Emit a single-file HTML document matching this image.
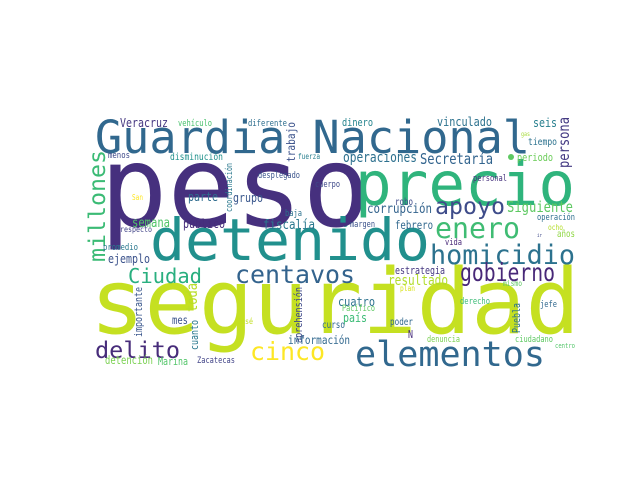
<!DOCTYPE html>
<html><head><meta charset="utf-8"><style>
html,body{margin:0;padding:0;background:#fff;}
svg{display:block;}
text{font-family:"DejaVu Sans Mono","Liberation Mono",monospace;}
</style></head><body>
<svg id="cloud" width="640" height="480" viewBox="0 0 640 480" xmlns="http://www.w3.org/2000/svg">
<rect width="640" height="480" fill="#fff"/>
<circle cx="511" cy="157" r="3" fill="#5ec962"/>
<circle cx="345" cy="224" r="3" fill="#21918c"/>
</svg>
<script>
const words = ["Guardia Nacional","peso","precio","detenido","seguridad","enero","apoyo","homicidio","millones","centavos","Ciudad","gobierno","delito","cinco","elementos","Veracruz","vehículo","diferente","trabajo","menos","disminución","fuerza","coordinación","desplegado","cuerpo","San","parte","grupo","baja","semana","público","fiscalía","respecto","dinero","vinculado","seis","persona","gas","tiempo","operaciones","Secretaría","periodo","personal","robo","corrupción","Siguiente","margen","febrero","operación","ocho","ir","años","promedio","ejemplo","toda","importante","aprehensión","mes","cuanto","José","información","detención","Marina","Zacatecas","vida","estrategia","resultado","mismo","plan","cuatro","Pacífico","derecho","Puebla","jefe","país","poder","N","curso","denuncia","ciudadano","centro"];
const wx = [95,100,355,150,90,435,435,430,105,235,128,460,95,250,355,120,178,248,295,108,170,298,232,258,315,132,188,233,285,132,183,263,120,342,437,533,569,521,528,343,420,517,473,395,367,507,350,395,537,548,537,557,103,108,197,142,302,172,198,237,288,105,158,197,445,395,388,503,400,338,342,460,520,540,343,390,408,322,427,515,555];
const wy = [153,226,205,260,333,238,214,264,262,283,283,281,358,360,366,127,126,126,162,158,160,159,212,178,187,200,201,202,216,227,228,229,232,126,126,127,168,136,145,162,164,161,181,205,213,212,227,229,220,230,237,237,250,263,312,337,343,324,350,324,344,364,365,363,245,274,285,286,291,306,311,304,333,307,322,325,338,328,342,342,348];
const wlen = [435,270,220,280,490,85,70,145,112,120,74,95,85,75,190,48,34,39,40,22,53,22,49,42,25,11,30,30,17,38,42,52,32,31,55,24,51,9,29,74,73,36,34,18,65,66,25,38,38,15,5,18,35,42,29,50,56,16,30,16,62,48,30,38,17,50,60,19,15,37,33,30,30,17,24,23,5,23,33,38,20];
const wcolor = ["#31688e","#46307e","#2fb47c","#21908d","#c5e021","#3fbc73","#3e4c8a","#2c728e","#3bbb75","#33638d","#29af7f","#482878","#472c7a","#fde725","#31688e","#453781","#4ac16d","#2e6e8e","#3b528b","#3e4989","#21918c","#277f8e","#2a788e","#3a548c","#3e4989","#fde725","#2f6c8e","#39568c","#2c728e","#52c569","#472d7b","#2a788e","#404387","#25848e","#2c728e","#277f8e","#443a83","#a5db36","#2c728e","#2d708e","#32648e","#6ccd5a","#46327e","#3e4989","#33638d","#5ec962","#3b528b","#31688e","#2e6e8e","#b5de2b","#3e4989","#8fd744","#2a788e","#3b528b","#b8de29","#39568c","#3e4989","#3b528b","#2a788e","#c2df23","#31688e","#7ad151","#52c569","#404387","#482878","#453781","#b2dd2d","#5ec962","#d8e219","#2c728e","#5ec962","#3bbb75","#2c728e","#31688e","#3bbb75","#31688e","#472d7b","#31688e","#7ad151","#5ec962","#52c569"];
const wvert = ["millones","trabajo","coordinación","persona","toda","importante","aprehensión","cuanto","Puebla"];
const svg = document.getElementById('cloud');
const NS = 'http://www.w3.org/2000/svg';
for (let i = 0; i < words.length; i++) {
  const t = document.createElementNS(NS, 'text');
  
  
  const n = words[i].length;
  let fs = wlen[i] / (n * 0.602);
  if (fs < 20) fs *= 1.25;
  t.setAttribute('font-size', fs.toFixed(1));
  t.setAttribute('fill', wcolor[i]);
  t.setAttribute('textLength', wlen[i]);
  t.setAttribute('lengthAdjust', 'spacingAndGlyphs');
  if (wvert.indexOf(words[i]) >= 0) {
    t.setAttribute('x', 0);
    t.setAttribute('y', 0);
    t.setAttribute('transform', 'translate(' + wx[i] + ',' + wy[i] + ') rotate(-90)');
  } else {
    t.setAttribute('x', wx[i]);
    t.setAttribute('y', wy[i]);
  }
  t.textContent = words[i];
  svg.appendChild(t);
}
</script>
</body></html>
